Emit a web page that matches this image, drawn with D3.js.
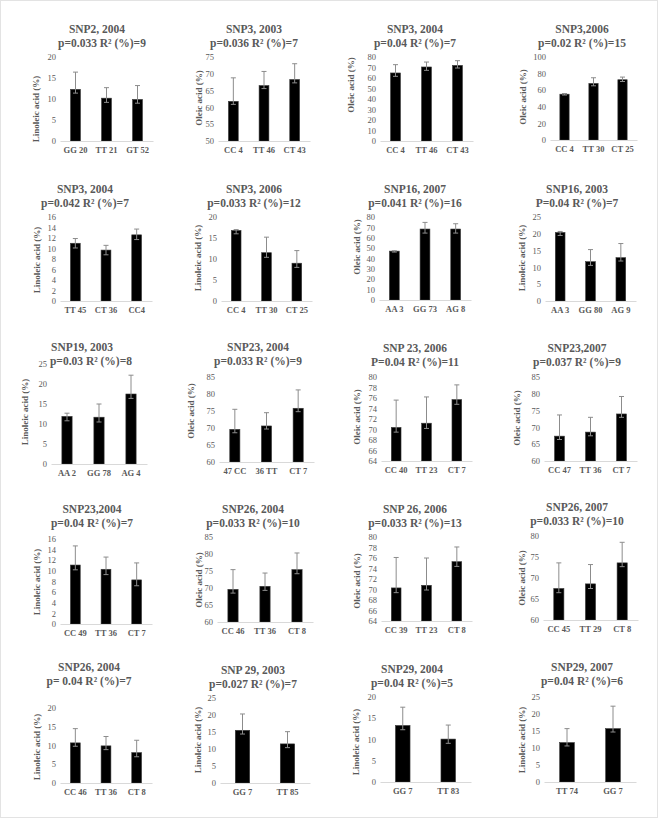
<!DOCTYPE html>
<html>
<head>
<meta charset="utf-8">
<script src="https://cdn.jsdelivr.net/npm/d3@7"></script>
<style>
  body { margin: 0; background: #fff; }
  svg { display: block; }
  text { font-family: "Liberation Serif", "Times New Roman", serif; }
</style>
</head>
<body>
<main></main>
<script>
const width = 661;
const height = 819;

// one entry per small chart, read left to right, top to bottom
const panelTitles = ['SNP2, 2004', 'SNP3, 2003', 'SNP3, 2004', 'SNP3,2006',
                     'SNP3, 2004', 'SNP3, 2006', 'SNP16, 2007', 'SNP16, 2003',
                     'SNP19, 2003', 'SNP23, 2004', 'SNP 23, 2006', 'SNP23,2007',
                     'SNP23,2004', 'SNP26, 2004', 'SNP 26, 2006', 'SNP26, 2007',
                     'SNP26, 2004', 'SNP 29, 2003', 'SNP29, 2004', 'SNP29, 2007'];
const panelStats = ['p=0.033 R² (%)=9', 'p=0.036 R² (%)=7', 'p=0.04 R² (%)=7', 'p=0.02 R² (%)=15',
                    'p=0.042 R² (%)=7', 'p=0.033 R² (%)=12', 'p=0.041 R² (%)=16', 'P=0.04 R² (%)=7',
                    'p=0.03 R² (%)=8', 'p=0.033 R² (%)=9', 'P=0.04 R² (%)=11', 'p=0.037 R² (%)=9',
                    'p=0.04 R² (%)=7', 'p=0.033 R² (%)=10', 'p=0.033 R² (%)=13', 'p=0.033 R² (%)=10',
                    'p= 0.04 R² (%)=7', 'p=0.027 R² (%)=7', 'p=0.04 R² (%)=5', 'p=0.04 R² (%)=6'];
const L = 'Linoleic acid (%)';
const O = 'Oleic acid (%)';
const panelMeasures = [L, O, O, O,
                       L, L, O, L,
                       L, O, O, O,
                       L, O, O, O,
                       L, L, L, L];
const panelCategories = [
  ['GG 20', 'TT 21', 'GT 52'], ['CC 4', 'TT 46', 'CT 43'], ['CC 4', 'TT 46', 'CT 43'], ['CC 4', 'TT 30', 'CT 25'],
  ['TT 45', 'CT 36', 'CC4'], ['CC 4', 'TT 30', 'CT 25'], ['AA 3', 'GG 73', 'AG 8'], ['AA 3', 'GG 80', 'AG 9'],
  ['AA 2', 'GG 78', 'AG 4'], ['47 CC', '36 TT', 'CT 7'], ['CC 40', 'TT 23', 'CT 7'], ['CC 47', 'TT 36', 'CT 7'],
  ['CC 49', 'TT 36', 'CT 7'], ['CC 46', 'TT 36', 'CT 8'], ['CC 39', 'TT 23', 'CT 8'], ['CC 45', 'TT 29', 'CT 8'],
  ['CC 46', 'TT 36', 'CT 8'], ['GG 7', 'TT 85'], ['GG 7', 'TT 83'], ['TT 74', 'GG 7']
];
const panelMeans = [
  [12.3, 10.2, 9.9], [61.8, 66.5, 68.3], [64.8, 70.5, 72.0], [55.2, 68.1, 72.6],
  [11.0, 9.7, 12.6], [16.8, 11.5, 9.0], [47.1, 68.4, 68.4], [20.4, 11.7, 12.9],
  [11.9, 11.7, 17.5], [69.6, 70.6, 75.8], [70.4, 71.2, 75.7], [67.4, 68.6, 74.0],
  [11.1, 10.3, 8.3], [69.6, 70.5, 75.4], [70.3, 70.8, 75.3], [67.5, 68.6, 73.6],
  [10.7, 9.9, 8.1], [15.5, 11.5], [13.3, 10.1], [11.6, 15.7]
];
const panelUpper = [
  [16.4, 12.7, 13.2], [68.8, 70.7, 73.0], [72.7, 75.2, 76.5], [56.0, 75.0, 75.8],
  [11.9, 10.6, 13.7], [17.0, 15.2, 12.0], [47.5, 74.8, 73.5], [20.7, 15.3, 17.1],
  [12.7, 15.0, 22.2], [75.5, 74.5, 81.2], [75.6, 76.2, 78.5], [73.7, 73.0, 79.2],
  [14.7, 12.6, 11.5], [75.4, 74.4, 80.3], [76.1, 76.0, 78.1], [73.6, 73.2, 78.5],
  [14.5, 12.4, 11.4], [20.3, 15.1], [17.6, 13.4], [15.7, 22.3]
];
const panelLower = [
  [11.4, 9.2, 9.0], [60.9, 65.6, 67.3], [61.6, 67.3, 69.5], [54.2, 65.3, 70.5],
  [10.1, 8.8, 11.7], [16.0, 10.4, 8.0], [46.2, 64.5, 64.5], [19.5, 10.6, 11.9],
  [10.8, 10.5, 16.4], [68.6, 69.7, 74.8], [69.5, 70.2, 74.8], [66.4, 67.5, 73.0],
  [10.2, 9.3, 7.2], [68.5, 69.3, 74.2], [69.4, 69.9, 74.4], [66.5, 67.5, 72.7],
  [9.8, 8.9, 7.0], [14.4, 10.4], [12.3, 9.1], [10.6, 14.7]
];
const panelDomains = [
  [0, 20], [50, 75], [0, 80], [0, 100],
  [0, 16], [0, 20], [0, 80], [0, 25],
  [0, 25], [60, 85], [64, 80], [60, 85],
  [0, 16], [60, 85], [64, 80], [60, 80],
  [0, 20], [0, 25], [0, 20], [0, 25]
];
const panelTickSteps = [5, 5, 10, 20,
                        2, 5, 10, 5,
                        5, 5, 2, 5,
                        2, 5, 2, 5,
                        5, 5, 5, 5];

// where each plot sits on the page: axis left/right, top tick, baseline,
// title centre (tx), stats line centre (sx), first title baseline, axis title x & y
const frames = [
  {x0: 60, x1: 153, yt: 57, yb: 141, tx: 97, sx: 102, ty: 33, lx: 37, ly: 109},
  {x0: 218, x1: 310, yt: 57, yb: 141, tx: 254, sx: 254, ty: 33, lx: 200, ly: 98},
  {x0: 380, x1: 473, yt: 57, yb: 141, tx: 415, sx: 415, ty: 33, lx: 352, ly: 85},
  {x0: 550, x1: 637, yt: 57, yb: 140, tx: 582, sx: 582, ty: 33, lx: 524, ly: 97},
  {x0: 60, x1: 152, yt: 217, yb: 301, tx: 85, sx: 85, ty: 193, lx: 38, ly: 260},
  {x0: 221, x1: 312, yt: 217, yb: 301, tx: 254, sx: 254, ty: 193, lx: 199, ly: 258},
  {x0: 379, x1: 471, yt: 217, yb: 300, tx: 415, sx: 415, ty: 193, lx: 358, ly: 247},
  {x0: 545, x1: 636, yt: 217, yb: 301, tx: 577, sx: 577, ty: 193, lx: 523, ly: 258},
  {x0: 51, x1: 147, yt: 364, yb: 464, tx: 82, sx: 91, ty: 351, lx: 26, ly: 412},
  {x0: 219, x1: 314, yt: 377, yb: 462, tx: 258, sx: 258, ty: 351, lx: 192, ly: 411},
  {x0: 381, x1: 472, yt: 377, yb: 461, tx: 415, sx: 415, ty: 352, lx: 358, ly: 417},
  {x0: 544, x1: 637, yt: 377, yb: 461, tx: 577, sx: 577, ty: 352, lx: 518, ly: 418},
  {x0: 60, x1: 152, yt: 539, yb: 624, tx: 92, sx: 92, ty: 513, lx: 38, ly: 582},
  {x0: 217, x1: 313, yt: 537, yb: 622, tx: 253, sx: 253, ty: 513, lx: 200, ly: 580},
  {x0: 381, x1: 472, yt: 537, yb: 621, tx: 415, sx: 415, ty: 513, lx: 358, ly: 581},
  {x0: 543, x1: 638, yt: 536, yb: 620, tx: 577, sx: 577, ty: 511, lx: 523, ly: 578},
  {x0: 60, x1: 152, yt: 708, yb: 783, tx: 89, sx: 89, ty: 671, lx: 38, ly: 747},
  {x0: 220, x1: 310, yt: 698, yb: 783, tx: 253, sx: 253, ty: 674, lx: 199, ly: 740},
  {x0: 380, x1: 471, yt: 697, yb: 782, tx: 412, sx: 412, ty: 673, lx: 357, ly: 742},
  {x0: 544, x1: 636, yt: 697, yb: 782, tx: 582, sx: 582, ty: 671, lx: 523, ly: 740}
];

const textColor = '#595959';

const createCanvas = () => {
    const svg = d3.select('main')
                  .append('svg')
                  .attr('width', width)
                  .attr('height', height);
    svg.append('rect')
       .attr('x', 0.5).attr('y', 0.5)
       .attr('width', width - 4).attr('height', height - 2)
       .attr('fill', '#fff')
       .attr('stroke', '#e3e3e3');
    return svg;
};

const drawPanel = (svg, i) => {
    const f = frames[i];
    const cats = panelCategories[i];
    const dom = panelDomains[i];
    const g = svg.append('g').attr('class', 'panel');

    const x = d3.scaleBand().domain(cats)
                .range([f.x0, f.x1])
                .paddingInner(0.68).paddingOuter(0.34);
    const y = d3.scaleLinear().domain(dom).range([f.yb, f.yt]);

    // titles
    g.append('text')
     .attr('x', f.tx).attr('y', f.ty)
     .attr('text-anchor', 'middle')
     .attr('font-size', 11.5).attr('font-weight', 'bold')
     .attr('fill', textColor)
     .text(panelTitles[i]);
    g.append('text')
     .attr('x', f.sx).attr('y', f.ty + 13.5)
     .attr('text-anchor', 'middle')
     .attr('font-size', 11.5).attr('font-weight', 'bold')
     .attr('fill', textColor)
     .text(panelStats[i]);

    // y axis, no line
    const ya = g.append('g')
                .attr('transform', 'translate(' + f.x0 + ',0)')
                .call(d3.axisLeft(y)
                        .tickValues(d3.range(dom[0], dom[1] + 0.001, panelTickSteps[i]))
                        .tickSize(0).tickPadding(4));
    ya.select('.domain').remove();
    ya.selectAll('text')
      .attr('font-size', 8.5).attr('fill', textColor);

    g.append('text')
     .attr('transform', 'translate(' + f.lx + ',' + f.ly + ') rotate(-90)')
     .attr('text-anchor', 'middle')
     .attr('dominant-baseline', 'middle')
     .attr('font-size', 9).attr('font-weight', 'bold')
     .attr('fill', textColor)
     .text(panelMeasures[i]);

    // bars
    g.selectAll('rect.bar')
     .data(panelMeans[i])
     .enter()
     .append('rect')
     .attr('class', 'bar')
     .attr('x', (d, j) => x(cats[j]))
     .attr('y', d => y(d))
     .attr('width', x.bandwidth())
     .attr('height', d => y(dom[0]) - y(d))
     .attr('fill', '#000')
     .attr('stroke', '#3a3a3a')
     .attr('stroke-width', 0.6);

    // x axis
    const xa = g.append('g')
                .attr('transform', 'translate(0,' + f.yb + ')')
                .call(d3.axisBottom(x).tickSize(0).tickPadding(6));
    xa.select('.domain').attr('stroke', '#d9d9d9').attr('stroke-width', 1);
    xa.selectAll('text')
      .attr('font-size', 8.5).attr('font-weight', 'bold')
      .attr('fill', textColor);

    // error bars
    const errs = panelMeans[i].map((d, j) => ({c: cats[j], hi: panelUpper[i][j], lo: panelLower[i][j]}));
    const eb = g.selectAll('g.err').data(errs).enter().append('g').attr('class', 'err')
                .attr('stroke', '#8c8c8c').attr('stroke-width', 1);
    const cx = d => x(d.c) + x.bandwidth() / 2;
    eb.append('line')
      .attr('x1', cx).attr('x2', cx)
      .attr('y1', d => y(d.hi)).attr('y2', d => y(d.lo));
    eb.append('line')
      .attr('x1', d => cx(d) - 2.5).attr('x2', d => cx(d) + 2.5)
      .attr('y1', d => y(d.hi)).attr('y2', d => y(d.hi));
    eb.append('line')
      .attr('x1', d => cx(d) - 2.5).attr('x2', d => cx(d) + 2.5)
      .attr('y1', d => y(d.lo)).attr('y2', d => y(d.lo));
};

const driver = () => {
    const svg = createCanvas();
    panelTitles.forEach((t, i) => drawPanel(svg, i));
};

driver();
</script>
</body>
</html>
